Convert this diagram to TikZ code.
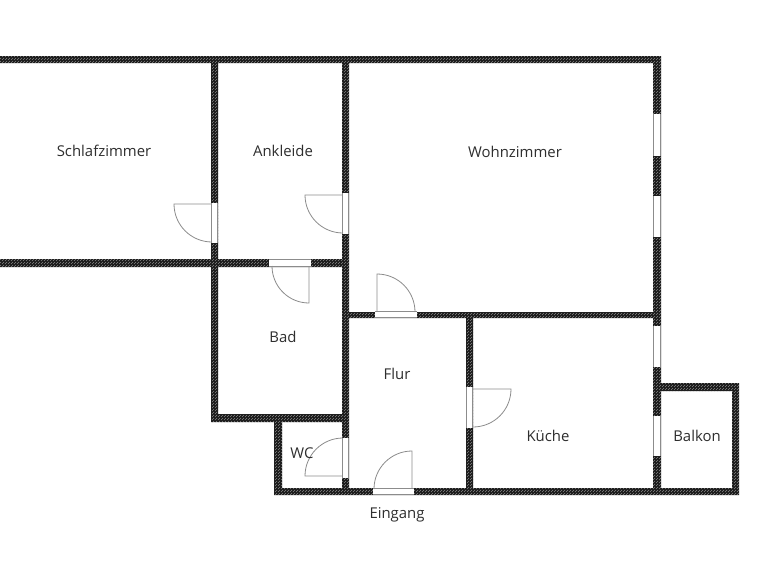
\documentclass[tikz,border=0pt]{standalone}
\usepackage{fontspec}
\setmainfont{Open Sans}
\usetikzlibrary{patterns}
\pgfdeclarepatternformonly{wallchecks}{\pgfqpoint{0pt}{0pt}}{\pgfqpoint{3pt}{3pt}}{\pgfqpoint{3pt}{3pt}}{%
  \pgfpathrectangle{\pgfqpoint{0pt}{0pt}}{\pgfqpoint{1pt}{1pt}}%
  \pgfpathrectangle{\pgfqpoint{1.5pt}{1.5pt}}{\pgfqpoint{1pt}{1pt}}%
  \pgfusepath{fill}}
\definecolor{textgrey}{HTML}{2E2E2E}
\definecolor{linegrey}{HTML}{8C8C8C}
\tikzset{
  wallfill/.style={fill=black!88!white},
  wallcheck/.style={pattern=wallchecks,pattern color=white!45!black},
  opening/.style={fill=white,draw=none},
  sideline/.style={draw=linegrey,line width=0.9pt},
  leaf/.style={draw=linegrey,line width=0.8pt},
  room/.style={font=\fontsize{14.9pt}{16pt}\selectfont,text=textgrey,inner sep=0pt}
}
\newcommand{\wallshapes}{
  (0,56) rectangle (661,63)
  (653,56) rectangle (661,495)
  (211,56) rectangle (218,422)
  (342,56) rectangle (349,495)
  (0,259) rectangle (349,267)
  (211,414) rectangle (349,422)
  (274,414) rectangle (282,495)
  (274,488) rectangle (739,495)
  (342,312) rectangle (661,318)
  (466,312) rectangle (473,495)
  (653,383) rectangle (739,391)
  (732,383) rectangle (739,495)
}
% vertical opening: x1 x2 y1 y2
\newcommand{\vopen}[4]{
  \fill[opening] (#1,#3) rectangle (#2,#4);
  \draw[sideline] (#1,#3) -- (#1,#4) (#2,#3) -- (#2,#4);
}
% horizontal opening
\newcommand{\hopen}[4]{
  \fill[opening] (#1,#3) rectangle (#2,#4);
  \draw[sideline] (#1,#3) -- (#2,#3) (#1,#4) -- (#2,#4);
}
\begin{document}
\begin{tikzpicture}[x=1pt,y=1pt,yscale=-1]
\useasboundingbox (0,0) rectangle (768,560);
\fill[white] (0,0) rectangle (768,560);
\fill[wallfill] \wallshapes;
\fill[wallcheck] \wallshapes;
% windows
\vopen{653.5}{660.5}{114}{156}
\vopen{653.5}{660.5}{196}{237}
\vopen{653.5}{660.5}{326}{367}
\vopen{653.5}{660.5}{416}{456}
% doors: openings
\vopen{211.5}{217.5}{203}{243}
\vopen{342.5}{348.5}{193}{234}
\hopen{269}{311}{259.5}{266.5}
\hopen{375}{417}{311.5}{317.5}
\vopen{466.5}{472.5}{387}{428}
\vopen{342.5}{348.5}{438}{478}
\hopen{373}{414}{488.5}{494.5}
% door leaves
\draw[leaf] (211,204) -- (174,204) arc[start angle=180,end angle=90,radius=38];
\draw[leaf] (342,195) -- (305,195) arc[start angle=180,end angle=90,radius=38];
\draw[leaf] (309,267) -- (309,303) arc[start angle=90,end angle=180,radius=37];
\draw[leaf] (377,311) -- (377,274) arc[start angle=-90,end angle=0,radius=38];
\draw[leaf] (473,389) -- (511,389) arc[start angle=0,end angle=90,radius=38];
\draw[leaf] (342,476) -- (305,476) arc[start angle=180,end angle=270,radius=38];
\draw[leaf] (412,488) -- (412,451) arc[start angle=270,end angle=180,radius=38];
% labels
\node[room] (schlaf) at (104,151) {Schlafzimmer};
\node[room] (ankl) at (283,151) {Ankleide};
\node[room] (wohn) at (515,152) {Wohnzimmer};
\node[room] (bad) at (283,337) {Bad};
\node[room] (flur) at (397,374) {Flur};
\node[room] (wc) at (302,453) {WC};
\node[room] (kueche) at (548,436) {Küche};
\node[room] (balkon) at (697,436) {Balkon};
\node[room] (eing) at (397,515) {Eingang};
\end{tikzpicture}
\end{document}
